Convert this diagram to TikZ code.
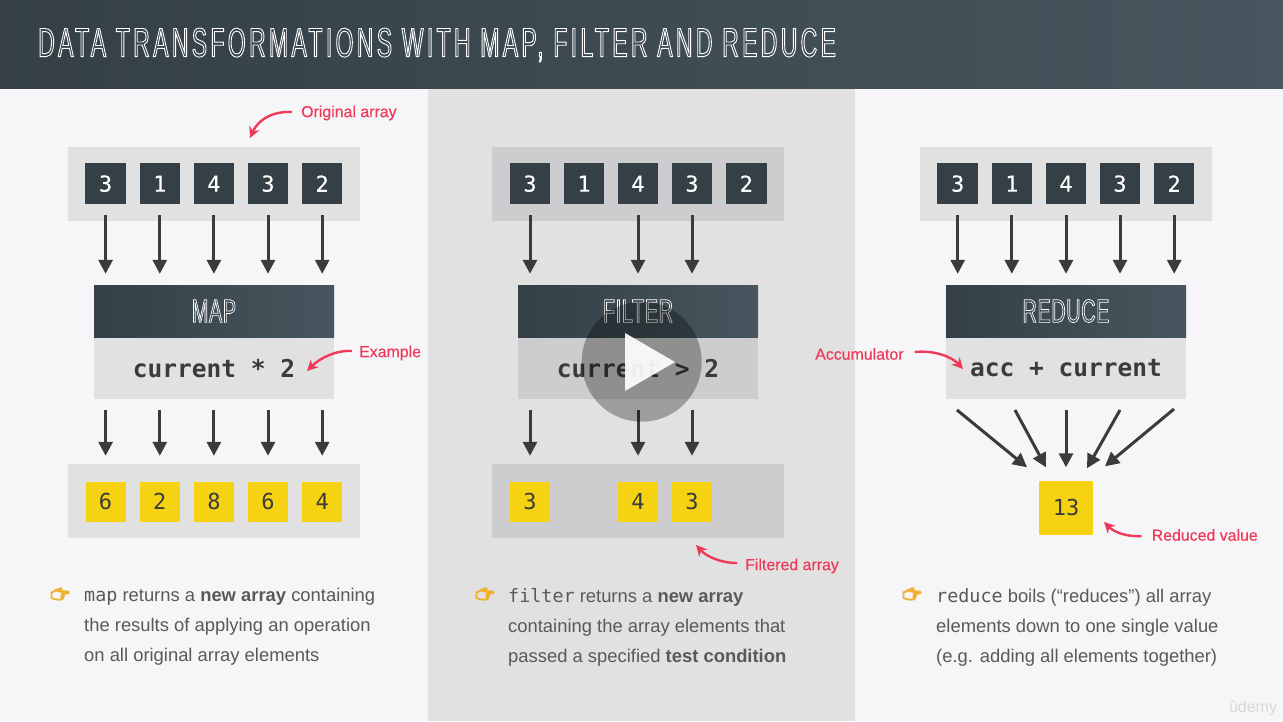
\documentclass[tikz,border=0pt]{standalone}
\usepackage{fontspec}
\setmainfont{Liberation Sans}
\setmonofont{DejaVu Sans Mono}
\newfontfamily\titlefont[FakeStretch=0.56,LetterSpace=8.2]{Liberation Sans}
\newfontfamily\nametitlefont[FakeStretch=0.6,LetterSpace=2]{Liberation Sans}
\newfontfamily\notefont[FakeBold=0.2]{Liberation Sans}
\newfontfamily\digitfont[FakeBold=0.25]{DejaVu Sans Mono}
\newfontfamily\emojifont[FakeStretch=1.15]{Noto Emoji}
\usetikzlibrary{arrows.meta}
\definecolor{slatedark}{HTML}{343F46}
\definecolor{slatelight}{HTML}{47565E}
\definecolor{paper}{HTML}{F6F5F8}
\definecolor{panel}{HTML}{E1E1E1}
\definecolor{panelmid}{HTML}{CDCDCF}
\definecolor{inkdark}{HTML}{3B3B3B}
\definecolor{notered}{HTML}{EE3A59}
\definecolor{yellowbox}{HTML}{F5D312}
\definecolor{handgold}{HTML}{F0B030}
\newcommand{\outlined}[2]{\special{pdf:code 1 Tr #1 w 1 1 1 RG}#2\special{pdf:code 0 Tr}}
\newcommand{\handglyph}{\special{pdf:code 2 Tr 1.3 w 0.94 0.69 0.19 RG}\char"1F449\special{pdf:code 0 Tr}}
\begin{document}
\begin{tikzpicture}[x=1pt,y=-1pt]
\tikzstyle{arraybg}=[minimum width=292pt,minimum height=74pt,inner sep=0pt]
\tikzstyle{inbox}=[minimum size=40.5pt,inner sep=0pt,fill=slatedark,text=white,font=\digitfont\fontsize{22}{22}\selectfont]
\tikzstyle{outbox}=[minimum size=40pt,inner sep=0pt,fill=yellowbox,text=inkdark,font=\ttfamily\fontsize{22}{22}\selectfont]
\tikzstyle{opname}=[minimum width=240pt,minimum height=52pt,inner sep=0pt,left color=slatedark,right color=slatelight,font=\nametitlefont\fontsize{33}{33}\selectfont]
\tikzstyle{opbody}=[minimum width=240pt,minimum height=61pt,inner sep=0pt,text=inkdark,font=\ttfamily\bfseries\fontsize{24.5}{24.5}\selectfont]
\tikzstyle{flow}=[draw=inkdark,line width=3pt,-{Triangle[length=14pt,width=14pt]}]
\tikzstyle{note}=[text=notered,inner sep=0pt,anchor=west,font=\notefont\fontsize{15.9}{16}\selectfont]
\tikzstyle{noteline}=[draw=notered,line width=2.4pt,-{Stealth[length=11pt,width=11pt]}]
\tikzstyle{bullet}=[inner sep=0pt,anchor=north west,align=left,text=black!65,font=\fontsize{18.4}{30}\selectfont]
\tikzstyle{hand}=[inner sep=0pt,text=handgold,font=\emojifont\fontsize{13}{13}\selectfont]
\fill[paper] (0,0) rectangle (1283,721);
\fill[panel] (428,88) rectangle (855,721);
\shade[left color=slatedark,right color=slatelight] (0,0) rectangle (1283,88);
\node[anchor=west,inner sep=0pt,font=\titlefont\fontsize{41}{41}\selectfont] (title) at (38,45) {\outlined{0.9}{DATA TRANSFORMATIONS WITH MAP, FILTER AND REDUCE}};

\node[arraybg,fill=panel](mapin) at (214,184) {};
\node[inbox](mi1) at (105.6,183.6) {3};
\node[inbox](mi2) at (159.8,183.6) {1};
\node[inbox](mi3) at (213.9,183.6) {4};
\node[inbox](mi4) at (268,183.6) {3};
\node[inbox](mi5) at (322.2,183.6) {2};
\node[opname](mapname) at (214,311) {\outlined{0.7}{MAP}};
\node[opbody,fill=panel](mapbody) at (214,368.5) {current * 2};
\node[arraybg,fill=panel](mapout) at (214,501) {};
\node[outbox](mo1) at (105.6,501.5) {6};
\node[outbox](mo2) at (159.8,501.5) {2};
\node[outbox](mo3) at (213.9,501.5) {8};
\node[outbox](mo4) at (268,501.5) {6};
\node[outbox](mo5) at (322.2,501.5) {4};
\draw[flow] ([yshift=-11pt]mi1.south) -- ([yshift=11pt]mi1.south |- mapname.north);
\draw[flow] ([yshift=-11pt]mi2.south) -- ([yshift=11pt]mi2.south |- mapname.north);
\draw[flow] ([yshift=-11pt]mi3.south) -- ([yshift=11pt]mi3.south |- mapname.north);
\draw[flow] ([yshift=-11pt]mi4.south) -- ([yshift=11pt]mi4.south |- mapname.north);
\draw[flow] ([yshift=-11pt]mi5.south) -- ([yshift=11pt]mi5.south |- mapname.north);
\draw[flow] ([yshift=-11pt]mo1.north |- mapbody.south) -- ([yshift=8pt]mo1.north |- mapout.north);
\draw[flow] ([yshift=-11pt]mo2.north |- mapbody.south) -- ([yshift=8pt]mo2.north |- mapout.north);
\draw[flow] ([yshift=-11pt]mo3.north |- mapbody.south) -- ([yshift=8pt]mo3.north |- mapout.north);
\draw[flow] ([yshift=-11pt]mo4.north |- mapbody.south) -- ([yshift=8pt]mo4.north |- mapout.north);
\draw[flow] ([yshift=-11pt]mo5.north |- mapbody.south) -- ([yshift=8pt]mo5.north |- mapout.north);
\node[note](noteorig) at (301,113) {Original array};
\draw[noteline] (noteorig.west) ++(-9,-1) coordinate (origtail) (origtail) .. controls (272,111) and (258,120) .. (250,138);
\node[note](noteex) at (359,353) {Example};
\draw[noteline] (noteex.west) ++(-7,-2) coordinate (extail) (extail) .. controls (336,350) and (320,358) .. (307,371);

\node[arraybg,fill=panelmid](filtin) at (638,184) {};
\node[inbox](fi1) at (530,183.6) {3};
\node[inbox](fi2) at (584,183.6) {1};
\node[inbox](fi3) at (638,183.6) {4};
\node[inbox](fi4) at (692,183.6) {3};
\node[inbox](fi5) at (746.3,183.6) {2};
\node[opname](filtname) at (638,311) {\outlined{0.7}{FILTER}};
\node[opbody,fill=panelmid](filtbody) at (638,368.5) {current > 2};
\node[arraybg,fill=panelmid](filtout) at (638,501) {};
\node[outbox](fo1) at (530,501.5) {3};
\node[outbox](fo3) at (638,501.5) {4};
\node[outbox](fo4) at (692,501.5) {3};
\draw[flow] ([yshift=-11pt]fi1.south) -- ([yshift=11pt]fi1.south |- filtname.north);
\draw[flow] ([yshift=-11pt]fi3.south) -- ([yshift=11pt]fi3.south |- filtname.north);
\draw[flow] ([yshift=-11pt]fi4.south) -- ([yshift=11pt]fi4.south |- filtname.north);
\draw[flow] ([yshift=-11pt]fo1.north |- filtbody.south) -- ([yshift=8pt]fo1.north |- filtout.north);
\draw[flow] ([yshift=-11pt]fo3.north |- filtbody.south) -- ([yshift=8pt]fo3.north |- filtout.north);
\draw[flow] ([yshift=-11pt]fo4.north |- filtbody.south) -- ([yshift=8pt]fo4.north |- filtout.north);
\node[note](notefilt) at (745,566) {Filtered array};
\draw[noteline] (notefilt.west) ++(-8,-3) coordinate (filttail) (filttail) .. controls (720,563) and (706,556) .. (696,545);
\node[circle,minimum size=120pt,inner sep=0pt,fill=black,fill opacity=0.3](playdisc) at (641.7,361.7) {};
\fill[white,fill opacity=0.92] (625,333) -- (675,362) -- (625,391) -- cycle;

\node[arraybg,fill=panel](redin) at (1066,184) {};
\node[inbox](ri1) at (957.7,183.6) {3};
\node[inbox](ri2) at (1011.8,183.6) {1};
\node[inbox](ri3) at (1066,183.6) {4};
\node[inbox](ri4) at (1120,183.6) {3};
\node[inbox](ri5) at (1174.2,183.6) {2};
\node[opname](redname) at (1066,311) {\outlined{0.7}{REDUCE}};
\node[opbody,fill=panel](redbody) at (1066,368.5) {acc + current};
\node[outbox,minimum size=54pt](redout) at (1066,507.5) {13};
\draw[flow] ([yshift=-11pt]ri1.south) -- ([yshift=11pt]ri1.south |- redname.north);
\draw[flow] ([yshift=-11pt]ri2.south) -- ([yshift=11pt]ri2.south |- redname.north);
\draw[flow] ([yshift=-11pt]ri3.south) -- ([yshift=11pt]ri3.south |- redname.north);
\draw[flow] ([yshift=-11pt]ri4.south) -- ([yshift=11pt]ri4.south |- redname.north);
\draw[flow] ([yshift=-11pt]ri5.south) -- ([yshift=11pt]ri5.south |- redname.north);
\coordinate (rt1) at (957,410);
\coordinate (rt2) at (1015,410);
\coordinate (rt3) at (1066,410);
\coordinate (rt4) at (1120,410);
\coordinate (rt5) at (1174,409);
\draw[flow] (rt1) -- ([xshift=-39pt,yshift=13pt]redout.north);
\draw[flow] (rt2) -- ([xshift=-20pt,yshift=13pt]redout.north);
\draw[flow] (rt3) -- ([yshift=13pt]redout.north);
\draw[flow] (rt4) -- ([xshift=21pt,yshift=12pt]redout.north);
\draw[flow] (rt5) -- ([xshift=39pt,yshift=14pt]redout.north);
\node[note](noteacc) at (815,354) {Accumulator};
\draw[noteline] (noteacc.east) ++(11,-2) coordinate (acctail) (acctail) .. controls (935,350) and (952,357) .. (963,369);
\node[note](notered) at (1151.5,535) {Reduced value};
\draw[noteline] (notered.west) ++(-10,1) coordinate (redtail) (redtail) .. controls (1126,537) and (1114,532) .. (1104,522);

\node[hand](hand1) at (60,594) {\handglyph};
\node[bullet](textmap) at (84,588) {\texttt{map} returns a \textbf{new array} containing\\the results of applying an operation\\on all original array elements};
\node[hand](hand2) at (485,594) {\handglyph};
\node[bullet](textfilt) at (508,588) {\texttt{filter} returns a \textbf{new array}\\containing the array elements that\\passed a specified \textbf{test condition}};
\node[hand](hand3) at (912,594) {\handglyph};
\node[bullet](textred) at (936,588) {\texttt{reduce} boils (“reduces”) all array\\elements down to one single value\\(e.g. adding all elements together)};
\node[inner sep=0pt,text=black!15,font=\fontsize{16}{16}\selectfont](brand) at (1253,708) {ûdemy};
\end{tikzpicture}
\end{document}
